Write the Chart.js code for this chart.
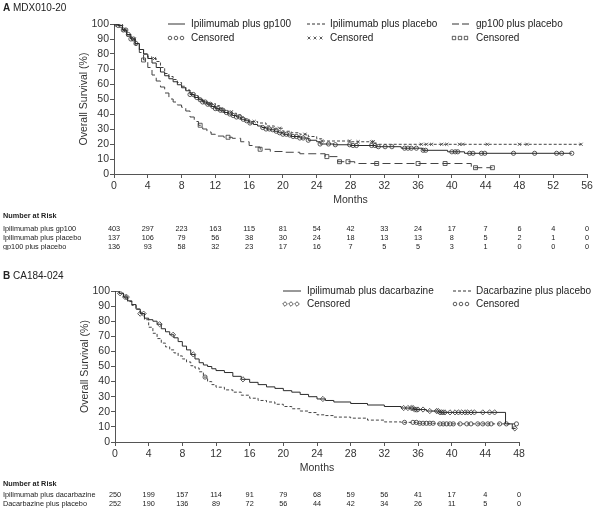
<!DOCTYPE html>
<html>
<head>
<meta charset="utf-8">
<script src="https://cdn.jsdelivr.net/npm/chart.js@4.4.1/dist/chart.umd.min.js"></script>
<style>
  body { margin: 0; background: #fff; }
  .panel { position: absolute; left: 0; width: 600px; }
</style>
</head>
<body>
<div class="panel" style="top:0;height:250px"><canvas id="chartA"></canvas></div>
<div class="panel" style="top:250px;height:260px"><canvas id="chartB"></canvas></div>
<script>
// ---------- Panel A: MDX010-20 ----------
const namesA = ['Ipilimumab plus gp100', 'Ipilimumab plus placebo', 'gp100 plus placebo'];

const ipiGp100Months = [0,0.5,1,1.5,2,2.5,3,3.5,4,4.5,5,5.5,6,6.5,7,7.5,8,8.5,9,9.5,10,10.5,11,11.5,12,12.5,13,13.5,14,14.5,15,15.5,16,16.5,17,17.5,18,18.5,19,19.5,20,20.5,21,22,23,24,24.4,26,28,31,34,36.5,39.5,41.5,54.2];
const ipiGp100Surv   = [100,99,96,93,90,87,83,80,77,74,71,68,65.5,63.5,61.5,59.5,57.5,55.5,53,51,49.5,48,46.5,45,43.6,42.5,41,40,39,38,36.5,35.5,34,33,32,31,30,29.5,28.5,27.5,26.5,26,25,24,22.5,21.5,20,19.5,19,18.2,17.2,15.8,14.8,13.8,13.8];
const ipiGp100Censor = [0.2,0.5,0.8,1.1,1.4,1.7,2.0,2.3,2.6,9.0,9.4,9.8,10.2,10.5,10.8,11.1,11.4,11.7,12.0,12.3,12.6,12.9,13.3,13.7,14.1,14.5,14.9,15.3,15.7,16.1,17.6,18.0,18.4,18.8,19.2,19.6,20.0,20.4,20.8,21.2,21.6,22.0,22.4,23.0,24.4,25.4,26.2,27.9,28.3,28.7,30.5,30.9,31.3,32.1,32.9,34.4,34.8,35.2,35.8,36.6,36.9,40.0,40.4,40.7,42.1,42.5,43.5,43.9,47.3,49.8,52.4,53.0,54.2];

const ipiPlacMonths = [0,0.5,1,1.5,2,2.5,3,3.5,4,4.5,5,5.5,6,6.5,7,7.5,8,8.5,9,9.5,10,10.5,11,12,12.5,13,13.5,14,14.5,15,15.5,16,17,18,19,20,21,22,23,24,24.6,28,31,55.3];
const ipiPlacSurv   = [100,99,96,93,90,87,83,80,78,77,75,71,67,65,63,61,58.5,56,54,52,50,48.5,47,45.6,44,42.5,41.5,40.5,39.5,38,36.5,35,34,32,30.5,28.5,27.5,26.5,25,23.5,22,21.5,19.8,19.8];
const ipiPlacCensor = [0.3,1.2,2.4,4.8,13.9,16.6,19.6,22.6,24.6,27.9,28.9,30.5,30.7,36.4,37.0,37.6,38.8,39.4,40.9,41.3,44.2,48.0,48.9,55.3];

const gp100Months = [0,0.5,1,1.5,2,2.5,3,3.5,4,4.5,5,5.5,6,6.5,7,7.5,8,8.5,9,9.5,10,10.5,11,11.5,12,13,14,15,16,16.5,17.3,18.5,20,22,25,26.5,28.5,42.3,44.8];
const gp100Surv   = [100,99,96,92,89,86,81,76,71,66,62,58,54,50,48,46,44.5,42,38,35,32.5,30,28,26.5,25.3,24.5,23.8,21.5,19,18,16.5,15,14.5,13.5,11.6,8.2,7,4.2,4.2];
const gp100Censor = [3.5,10.2,13.5,17.3,25.2,26.7,27.7,31.1,36,39.2,42.8,44.8];

const riskMonthsA     = [0,4,8,12,16,20,24,28,32,36,40,44,48,52,56];
const riskIpiGp100    = [403,297,223,163,115,81,54,42,33,24,17,7,6,4,0];
const riskIpiPlacebo  = [137,106,79,56,38,30,24,18,13,13,8,5,2,1,0];
const riskGp100       = [136,93,58,32,23,17,16,7,5,5,3,1,0,0,0];

// ---------- Panel B: CA184-024 ----------
const namesB = ['Ipilimumab plus dacarbazine', 'Dacarbazine plus placebo'];

const ipiDticMonths = [0,0.5,1,1.5,2,2.5,3,3.5,4,4.5,5,5.5,6,6.5,7,7.5,8,8.5,9,9.5,10,10.5,11,11.5,12,13,14,15,16,17,18,19,20,21,22,23,24,25,26,28,30,32,34,35.5,37,38.5,46.4,47.2,47.6];
const ipiDticSurv   = [100,98.5,96,93.5,91,88,85,82,81,80,78,75,73,71,69,66.5,63.5,61,58,55,52.5,51,50,48.5,47.3,46,43.5,41.5,39.5,38,36.5,35.5,34,33,31.5,30,28.5,27.5,26.5,25.5,24.5,23.5,22.5,21.5,20.5,19.6,12,9,9];
const ipiDticCensor = [0.6,1.2,1.4,3.0,3.4,5.3,6.9,9.3,15.2,24.7,34.3,34.8,35.2,35.4,35.6,35.8,36.0,36.6,37.4,38.2,38.4,38.6,38.8,39.0,39.2,39.8,40.4,40.8,41.2,41.6,41.9,42.3,42.7,43.7,44.5,45.1,47.5];

const dticPlacMonths = [0,0.5,1,1.5,2,2.5,3,3.5,4,4.5,5,5.5,6,6.5,7,7.5,8,8.5,9,9.5,10,10.5,11,11.5,12,13,14,15,16,17,18,19,20,21,22,23,24,25,26,28,30,32,34,36,38,47.7];
const dticPlacSurv   = [100,98.5,96,93,90.5,88,85,81,76,72,68.5,65.5,63,61,59,57,55,53,50.5,49,46.5,43,40,38,36.3,34.5,33,31,29,27.5,26.5,25,23.5,22,20.5,19.5,18,17.5,16.5,15.8,14.5,13.3,13,12.4,12,12];
const dticPlacCensor = [10.7,34.4,35.4,35.8,36.2,36.6,37.0,37.4,37.8,38.6,39.0,39.4,39.8,40.2,41.0,41.8,42.3,43.1,43.7,44.3,44.7,45.7,46.5,47.7];

const riskMonthsB   = [0,4,8,12,16,20,24,28,32,36,40,44,48];
const riskIpiDtic   = [250,199,157,114,91,79,68,59,56,41,17,4,0];
const riskDticPlac  = [252,190,136,89,72,56,44,42,34,26,11,5,0];

// ---------- helpers ----------
const FONT = '"Liberation Sans", Arial, Helvetica, sans-serif';
Chart.defaults.font.family = FONT;
Chart.defaults.color = '#333';

// survival value of a step curve at time t (for placing censor marks on the curve)
function stepAt(months, surv, t) {
  let v = surv[0];
  for (let i = 0; i < months.length; i++) if (months[i] <= t) v = surv[i];
  return v;
}

function curve(label, months, surv, dash, color) {
  return {
    label, data: months.map((m, i) => ({ x: m, y: surv[i] })),
    showLine: true, stepped: true, borderColor: color, borderWidth: 1,
    borderDash: dash, pointRadius: 0, fill: false
  };
}

function censor(label, times, months, surv, style, r) {
  return {
    label, data: times.map(t => ({ x: t, y: stepAt(months, surv, t) })),
    showLine: false, pointStyle: style, pointRadius: r, pointHoverRadius: r,
    borderWidth: 0.8, borderColor: '#333', backgroundColor: 'rgba(0,0,0,0)'
  };
}

function mark(ctx, style, r, x, y) {
  ctx.save();
  ctx.fillStyle = 'rgba(0,0,0,0)';
  ctx.strokeStyle = '#333';
  ctx.lineWidth = 0.8;
  Chart.helpers.drawPoint(ctx, { pointStyle: style, radius: r, rotation: 0, borderWidth: 0.8 }, x, y);
  ctx.restore();
}

// panel title, legend and number-at-risk table
const extras = {
  id: 'extras',
  afterDraw(chart, args, o) {
    const ctx = chart.ctx;
    const xs = chart.scales.x;
    ctx.save();
    ctx.fillStyle = '#222';
    ctx.textBaseline = 'middle';
    ctx.textAlign = 'left';

    ctx.font = 'bold 10px ' + FONT;
    ctx.fillText(o.letter, 3, o.titleY);
    const w = ctx.measureText(o.letter + ' ').width;
    ctx.font = '10px ' + FONT;
    ctx.fillText(o.title, 3 + w, o.titleY);

    o.legend.forEach(item => {
      ctx.strokeStyle = '#333';
      ctx.lineWidth = 1;
      ctx.setLineDash(item.dash);
      ctx.beginPath();
      ctx.moveTo(item.x, o.legendY);
      ctx.lineTo(item.x + item.len, o.legendY);
      ctx.stroke();
      ctx.setLineDash([]);
      ctx.fillText(item.label, item.textX, o.legendY);
      for (let k = 0; k < 3; k++) mark(ctx, item.marker, item.r, item.x + 2 + k * 6, o.legendY + o.rowGap);
      ctx.fillText('Censored', item.textX, o.legendY + o.rowGap);
    });

    ctx.font = 'bold 7.3px ' + FONT;
    ctx.fillText('Number at Risk', 3, o.tableY);
    ctx.font = '7.3px ' + FONT;
    o.rows.forEach((row, r) => {
      const y = o.tableY + o.firstRow + r * o.tableGap;
      ctx.textAlign = 'left';
      ctx.fillText(row.label, 3, y);
      ctx.textAlign = 'center';
      row.values.forEach((v, i) => ctx.fillText(String(v), xs.getPixelForValue(o.months[i]), y));
    });
    ctx.restore();
  }
};

function axes(xMax, yPad) {
  const line = { display: true, drawOnChartArea: false, drawTicks: true, tickLength: 4, color: '#555', lineWidth: 1 };
  return {
    x: {
      type: 'linear', min: 0, max: xMax,
      grid: line, border: { display: true, color: '#555', width: 1 },
      ticks: { stepSize: 4, padding: 2, color: '#333', font: { size: 10.5 }, maxRotation: 0, autoSkip: false },
      title: { display: true, text: 'Months', color: '#333', font: { size: 10.5 }, padding: 0 },
      afterFit: s => { s.height = 32; }
    },
    y: {
      type: 'linear', min: 0, max: 100,
      grid: line, border: { display: true, color: '#555', width: 1 },
      ticks: { stepSize: 10, padding: 1, color: '#333', font: { size: 10.5 }, autoSkip: false },
      title: { display: true, text: 'Overall Survival (%)', color: '#333', font: { size: 10.5 }, padding: 0 },
      afterFit: s => { s.width = 36; }
    }
  };
}

new Chart(document.getElementById('chartA'), {
  type: 'scatter',
  data: {
    datasets: [
      curve(namesA[0], ipiGp100Months, ipiGp100Surv, [], '#2b2b2b'),
      curve(namesA[1], ipiPlacMonths, ipiPlacSurv, [3, 2], '#444'),
      curve(namesA[2], gp100Months, gp100Surv, [8, 4], '#444'),
      censor('Censored', ipiGp100Censor, ipiGp100Months, ipiGp100Surv, 'circle', 2.1),
      censor('Censored', ipiPlacCensor, ipiPlacMonths, ipiPlacSurv, 'crossRot', 2.2),
      censor('Censored', gp100Censor, gp100Months, gp100Surv, 'rect', 2.8)
    ]
  },
  options: {
    responsive: true, maintainAspectRatio: false, animation: false,
    layout: { padding: { left: 78, right: 13, top: 24, bottom: 44 } },
    scales: axes(56),
    plugins: {
      legend: { display: false }, tooltip: { enabled: false },
      extras: {
        letter: 'A', title: 'MDX010-20', titleY: 8,
        legendY: 24, rowGap: 14,
        legend: [
          { label: namesA[0], x: 168, len: 17, textX: 191, dash: [], marker: 'circle', r: 1.8 },
          { label: namesA[1], x: 307, len: 20, textX: 330, dash: [3, 2], marker: 'crossRot', r: 2 },
          { label: namesA[2], x: 452, len: 20, textX: 476, dash: [7, 3], marker: 'rect', r: 2.4 }
        ],
        tableY: 216, firstRow: 13, tableGap: 9, months: riskMonthsA,
        rows: [
          { label: namesA[0], values: riskIpiGp100 },
          { label: namesA[1], values: riskIpiPlacebo },
          { label: namesA[2], values: riskGp100 }
        ]
      }
    }
  },
  plugins: [extras]
});

new Chart(document.getElementById('chartB'), {
  type: 'scatter',
  data: {
    datasets: [
      curve(namesB[0], ipiDticMonths, ipiDticSurv, [], '#2b2b2b'),
      curve(namesB[1], dticPlacMonths, dticPlacSurv, [3, 2], '#444'),
      censor('Censored', ipiDticCensor, ipiDticMonths, ipiDticSurv, 'rectRot', 2.6),
      censor('Censored', dticPlacCensor, dticPlacMonths, dticPlacSurv, 'circle', 2.1)
    ]
  },
  options: {
    responsive: true, maintainAspectRatio: false, animation: false,
    layout: { padding: { left: 79, right: 81, top: 41, bottom: 36 } },
    scales: axes(48),
    plugins: {
      legend: { display: false }, tooltip: { enabled: false },
      extras: {
        letter: 'B', title: 'CA184-024', titleY: 26,
        legendY: 41, rowGap: 13,
        legend: [
          { label: namesB[0], x: 283, len: 18, textX: 307, dash: [], marker: 'rectRot', r: 2.3 },
          { label: namesB[1], x: 453, len: 19, textX: 476, dash: [3, 2], marker: 'circle', r: 1.8 }
        ],
        tableY: 234, firstRow: 11, tableGap: 9, months: riskMonthsB,
        rows: [
          { label: namesB[0], values: riskIpiDtic },
          { label: namesB[1], values: riskDticPlac }
        ]
      }
    }
  },
  plugins: [extras]
});
</script>
</body>
</html>
